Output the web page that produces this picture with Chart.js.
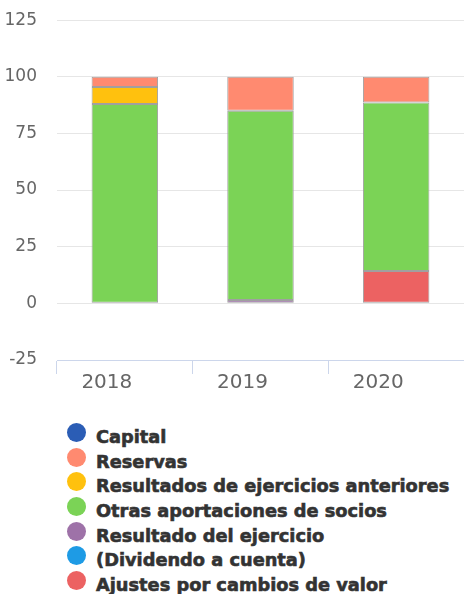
<!DOCTYPE html>
<html>
<head>
<meta charset="utf-8">
<script src="https://cdn.jsdelivr.net/npm/chart.js@4/dist/chart.umd.min.js"></script>
<style>
    body { margin: 0; background: #fff; }
    #wrap { position: relative; width: 464px; height: 400px; }
    #legend { margin-top: 24px; padding-left: 67px; font: bold 17.8px "DejaVu Sans", sans-serif; color: #333; -webkit-text-stroke: 0.6px #333; }
    .item { display: flex; align-items: center; height: 24.7px; white-space: nowrap; }
    .dot { width: 19px; height: 19px; border-radius: 50%; margin-right: 10px; position: relative; top: -4px; flex: none; }
</style>
</head>
<body>
<div id="wrap"><canvas id="chart"></canvas></div>
<div id="legend"></div>
<script>
// Datos (% sobre el patrimonio neto)
const years = ["2018", "2019", "2020"];
const seriesNames = [
    "Capital",
    "Reservas",
    "Resultados de ejercicios anteriores",
    "Otras aportaciones de socios",
    "Resultado del ejercicio",
    "(Dividendo a cuenta)",
    "Ajustes por cambios de valor",
];
const seriesColors = ["#2b5db5", "#ff8a70", "#ffc10e", "#7bd356", "#9e72a8", "#1e9be5", "#ec6262"];

const capital = [0, 0, 0];
const reservas = [4.5, 15, 11.4];
const resultadosAnteriores = [7.5, 0, 0];
const otrasAportaciones = [88, 83.5, 74.3];
const resultadoEjercicio = [0, 1.5, 0];
const dividendo = [0, 0, 0];
const ajustes = [0, 0, 14.3];

const yTicks = [-25, 0, 25, 50, 75, 100, 125];

const seriesValues = [capital, reservas, resultadosAnteriores, otrasAportaciones, resultadoEjercicio, dividendo, ajustes];

// La primera serie va arriba en la pila, así que se apilan en orden inverso
const datasets = seriesNames.map((name, i) => ({
    label: name,
    data: seriesValues[i],
    backgroundColor: seriesColors[i],
    borderColor: "#a0a0a0",
    borderWidth: 1,
    borderSkipped: false,
})).reverse();

new Chart(document.getElementById("chart"), {
    type: "bar",
    data: { labels: years, datasets: datasets },
    options: {
        responsive: true,
        maintainAspectRatio: false,
        animation: false,
        layout: { padding: { top: 1, left: 4, right: 0, bottom: 8 } },
        datasets: { bar: { categoryPercentage: 1, barPercentage: 0.49 } },
        plugins: { legend: { display: false }, tooltip: { enabled: false } },
        scales: {
            x: {
                stacked: true,
                border: { color: "#ccd6eb" },
                grid: { drawOnChartArea: false, color: "#ccd6eb", tickLength: 14, offset: true },
                ticks: {
                    color: "#666",
                    padding: -1,
                    labelOffset: -18,
                    font: { family: "'DejaVu Sans'", size: 20, lineHeight: 1 },
                },
            },
            y: {
                stacked: true,
                min: yTicks[0],
                max: yTicks[yTicks.length - 1],
                border: { display: false },
                grid: {
                    drawTicks: false,
                    color: (ctx) => (ctx.tick && ctx.tick.value === yTicks[0] ? "transparent" : "#e6e6e6"),
                },
                afterBuildTicks: (axis) => { axis.ticks = yTicks.map((v) => ({ value: v })); },
                afterFit: (axis) => { axis.width = 53; },
                // lineHeight mínimo para que la etiqueta superior no empuje el área del gráfico
                ticks: { color: "#666", padding: 20, font: { family: "'DejaVu Sans'", size: 17, lineHeight: 0.01 } },
            },
        },
    },
});

// Leyenda en HTML, un elemento por línea
const legendEl = document.getElementById("legend");
seriesNames.forEach((name, i) => {
    const row = document.createElement("div");
    row.className = "item";
    const dot = document.createElement("span");
    dot.className = "dot";
    dot.style.background = seriesColors[i];
    row.appendChild(dot);
    row.appendChild(document.createTextNode(name));
    legendEl.appendChild(row);
});
</script>
</body>
</html>
